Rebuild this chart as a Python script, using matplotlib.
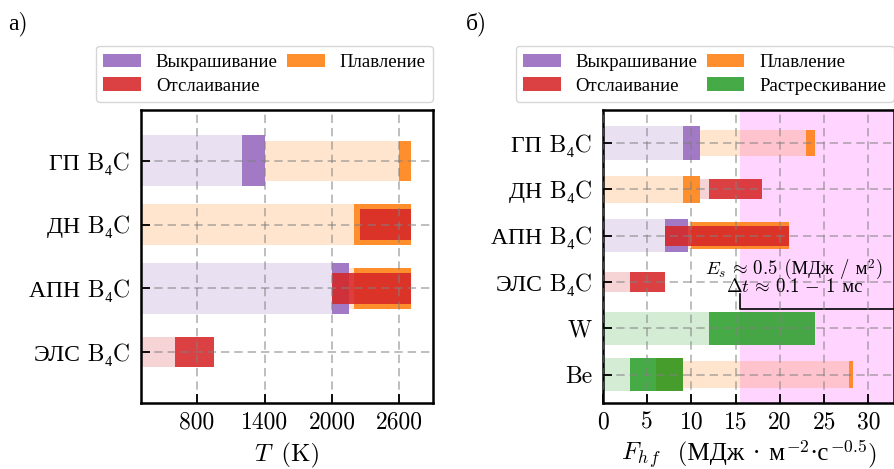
import matplotlib
matplotlib.use('Agg')
import matplotlib.pyplot as plt
from matplotlib.patches import Patch
from matplotlib.offsetbox import TextArea, HPacker, AnchoredOffsetbox

plt.rcParams['font.family'] = ['cmr10', 'Liberation Serif', 'DejaVu Serif']
plt.rcParams['mathtext.fontset'] = 'cm'
plt.rcParams['axes.unicode_minus'] = False

# --- data -------------------------------------------------------------
left_rows = ['ГП B₄C', 'ДН B₄C', 'АПН B₄C', 'ЭЛС B₄C']
left_ticks = [800, 1400, 2000, 2600]
# (row, mechanism, start, end, faint) ; faint = range before the effect
left_segments = [
    (0, 'spall', 300, 1200, True), (0, 'spall', 1200, 1400, False),
    (0, 'melt', 1400, 2600, True), (0, 'melt', 2600, 2700, False),
    (1, 'melt', 300, 2200, True), (1, 'melt', 2200, 2700, False),
    (1, 'flake', 2250, 2700, False),
    (2, 'spall', 300, 2000, True), (2, 'melt', 2150, 2200, True),
    (2, 'spall', 2000, 2150, False), (2, 'melt', 2200, 2700, False),
    (2, 'flake', 2000, 2700, False),
    (3, 'flake', 300, 600, True), (3, 'flake', 600, 950, False),
]

right_rows = ['ГП B₄C', 'ДН B₄C', 'АПН B₄C', 'ЭЛС B₄C', 'W', 'Be']
right_ticks = [0, 5, 10, 15, 20, 25, 30]
right_segments = [
    (0, 'spall', 0, 9, True), (0, 'spall', 9, 11, False),
    (0, 'melt', 11, 23, True), (0, 'melt', 23, 24, False),
    (1, 'melt', 0, 9, True), (1, 'melt', 9, 11, False),
    (1, 'flake', 11, 12, True), (1, 'flake', 12, 18, False),
    (2, 'spall', 0, 7, True), (2, 'spall', 7, 9.6, False),
    (2, 'melt', 9.6, 10, True), (2, 'melt', 10, 21, False),
    (2, 'flake', 7, 21, False),
    (3, 'flake', 0, 3, True), (3, 'flake', 3, 7, False),
    (4, 'crack', 0, 12, True), (4, 'crack', 12, 24, False),
    (5, 'crack', 0, 3, True), (5, 'melt', 9, 27.8, True),
    (5, 'melt', 27.8, 28.2, False), (5, 'crack', 3, 9, False),
]
# melting under cracking (Be)
right_overlap = [(5, 6, 9)]

Es_limit = 15.5

colors = {'spall': 'tab:purple', 'melt': 'tab:orange',
          'flake': 'tab:red', 'crack': 'tab:green'}
scale = {'spall': 1.0, 'crack': 1.0, 'melt': 0.8, 'flake': 0.6}
names = {'spall': 'Выкрашивание', 'flake': 'Отслаивание',
         'melt': 'Плавление', 'crack': 'Растрескивание'}


def draw(ax, rows, segments, h, overlap=()):
    n = len(rows)
    for r, x0, x1 in overlap:
        ax.barh(n - 1 - r, x1 - x0, left=x0, height=h,
                color=colors['melt'], alpha=0.9, lw=0)
    for r, m, x0, x1, faint in segments:
        ax.barh(n - 1 - r, x1 - x0, left=x0, height=h * scale[m],
                color=colors[m], alpha=0.2 if faint else 0.88, lw=0)
    ax.set_yticks(range(n))
    ax.set_yticklabels(rows[::-1])
    ax.set_axisbelow(False)
    ax.grid(True, ls='--', color='gray', alpha=0.6, lw=1.2, dashes=(5, 3))
    ax.tick_params(direction='in', length=6.5, width=1.3, labelsize=17,
                   top=False, right=False)
    ax.tick_params(axis='y', pad=8)
    ax.tick_params(axis='x', pad=6)
    for s in ax.spines.values():
        s.set_linewidth(1.8)


# text made of pieces: math pieces in CM, cyrillic pieces as plain text
def mixed(parts, size):
    kids = [TextArea(p, textprops=dict(fontsize=size)) for p in parts]
    return HPacker(children=kids, align='baseline', pad=0, sep=0)


def place(artist_parent, box, xy, transform):
    ab = AnchoredOffsetbox(loc='center', child=box, pad=0, borderpad=0,
                           frameon=False, bbox_to_anchor=xy,
                           bbox_transform=transform)
    artist_parent.add_artist(ab)


fig = plt.figure(figsize=(8.95, 4.69), dpi=100)
ax1 = fig.add_axes([0.1575, 0.1407, 0.3263, 0.6248])
ax2 = fig.add_axes([0.6737, 0.1407, 0.3248, 0.6248])

draw(ax1, left_rows, left_segments, 0.8)
ax1.set_xlim(300, 2900)
ax1.set_ylim(-0.8, 3.8)
ax1.set_xticks(left_ticks)
place(fig, mixed([r'$T$', ' (K)'], 18), (0.3206, 0.029), fig.transFigure)

ax2.axvspan(Es_limit, 40, color='magenta', alpha=0.17, lw=0, zorder=0)
draw(ax2, right_rows, right_segments, 0.72, right_overlap)
ax2.set_xlim(0, 32.85)
ax2.set_ylim(-0.61, 5.71)
ax2.set_xticks(right_ticks)
place(fig, mixed([r'$F_{h\,f}$', '  (МДж · м', r'$^{-2}$', '·с',
                  r'$^{-0.5}$', ')'], 18),
      (0.8365, 0.029), fig.transFigure)

ax2.plot([Es_limit, Es_limit, 40], [1.75, 1.41, 1.41], color='k', lw=1.2)
place(ax2, mixed([r'$E_s\,\approx\,0.5$', ' (МДж / м', r'$^2$', ')'], 13.5),
      (21.6, 2.28), ax2.transData)
place(ax2, mixed([r'$\Delta t\,\approx\,0.1\,-\,1$', ' мс'], 13.5),
      (21.6, 1.9), ax2.transData)

for ax, keys in [(ax1, ['spall', 'flake', 'melt']),
                 (ax2, ['spall', 'flake', 'melt', 'crack'])]:
    handles = [Patch(facecolor=colors[k], alpha=0.88, label=names[k]) for k in keys]
    ax.legend(handles=handles, ncol=2, loc='lower right',
              bbox_to_anchor=(1.0, 1.027), borderaxespad=0, fontsize=13.5,
              columnspacing=0.5, handlelength=2.0, labelspacing=0.3,
              fancybox=True)

fig.text(0.009, 0.975, 'а)', fontsize=17, va='top')
fig.text(0.52, 0.975, 'б)', fontsize=17, va='top')

fig.savefig('out.png', dpi=100)
